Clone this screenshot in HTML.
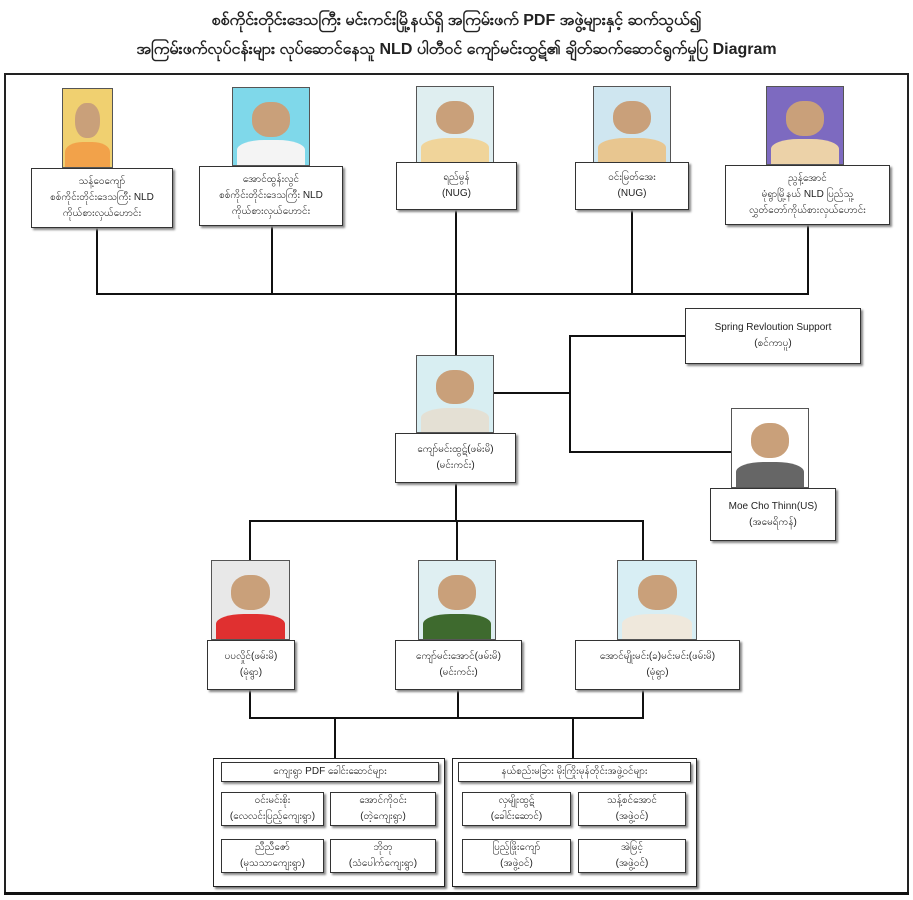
<!DOCTYPE html>
<html><head><meta charset="utf-8"><style>
body{margin:0;width:913px;height:900px;background:#fff;position:relative;overflow:hidden;font-family:"Liberation Sans","Noto Sans CJK SC",sans-serif;color:#222}
.t{position:absolute;left:0;width:913px;text-align:center;font-weight:bold;font-size:16px;white-space:nowrap}
.b{position:absolute;border:1px solid #333;background:#fff;box-shadow:2px 2px 2px #888;text-align:center;font-size:10px;line-height:16px;display:flex;flex-direction:column;justify-content:center;box-sizing:border-box}
.p{position:absolute;border:1px solid #555;box-sizing:border-box;overflow:hidden}
.p:after{content:"";position:absolute;left:25%;top:18%;width:50%;height:45%;border-radius:45%;background:#c9a07a}
.p:before{content:"";position:absolute;left:5%;bottom:0;width:90%;height:32%;border-radius:40% 40% 0 0;background:var(--s,#e8d2a0)}
.l{position:absolute;background:#111}
.g{position:absolute;border:1.5px solid #222;box-shadow:2px 2px 2px #777;box-sizing:border-box}
</style></head><body>
<div class="t" style="top:9px">စစ်ကိုင်းတိုင်းဒေသကြီး မင်းကင်းမြို့နယ်ရှိ အကြမ်းဖက် PDF အဖွဲ့များနှင့် ဆက်သွယ်၍</div>
<div class="t" style="top:38px">အကြမ်းဖက်လုပ်ငန်းများ လုပ်ဆောင်နေသူ NLD ပါတီဝင် ကျော်မင်းထွဋ်၏ ချိတ်ဆက်ဆောင်ရွက်မှုပြ Diagram</div>
<div style="position:absolute;left:4px;top:73px;width:905px;height:821px;border:2px solid #222;box-sizing:border-box"></div>
<div class="l" style="left:4px;top:892px;width:905px;height:3px"></div>

<!-- lines -->
<div class="l" style="left:96px;top:228px;width:2px;height:67px"></div>
<div class="l" style="left:271px;top:226px;width:2px;height:69px"></div>
<div class="l" style="left:455px;top:210px;width:2px;height:145px"></div>
<div class="l" style="left:631px;top:210px;width:2px;height:85px"></div>
<div class="l" style="left:807px;top:225px;width:2px;height:70px"></div>
<div class="l" style="left:96px;top:293px;width:713px;height:2px"></div>
<div class="l" style="left:456px;top:392px;width:115px;height:2px"></div>
<div class="l" style="left:569px;top:335px;width:2px;height:118px"></div>
<div class="l" style="left:569px;top:335px;width:116px;height:2px"></div>
<div class="l" style="left:569px;top:451px;width:162px;height:2px"></div>
<div class="l" style="left:455px;top:483px;width:2px;height:38px"></div>
<div class="l" style="left:249px;top:520px;width:395px;height:2px"></div>
<div class="l" style="left:249px;top:520px;width:2px;height:40px"></div>
<div class="l" style="left:456px;top:520px;width:2px;height:40px"></div>
<div class="l" style="left:642px;top:520px;width:2px;height:40px"></div>
<div class="l" style="left:249px;top:690px;width:2px;height:28px"></div>
<div class="l" style="left:457px;top:690px;width:2px;height:28px"></div>
<div class="l" style="left:642px;top:690px;width:2px;height:28px"></div>
<div class="l" style="left:249px;top:717px;width:395px;height:2px"></div>
<div class="l" style="left:334px;top:717px;width:2px;height:41px"></div>
<div class="l" style="left:572px;top:717px;width:2px;height:41px"></div>

<!-- top row -->
<div class="p" style="left:62px;top:88px;width:51px;height:80px;background:#f0d070;--s:#f2a24a"></div>
<div class="b" style="left:31px;top:168px;width:142px;height:60px">သန့်ဝေကျော်<br>စစ်ကိုင်းတိုင်းဒေသကြီး NLD<br>ကိုယ်စားလှယ်ဟောင်း</div>
<div class="p" style="left:232px;top:87px;width:78px;height:79px;background:#7fd8ea;--s:#f4f4f4"></div>
<div class="b" style="left:199px;top:166px;width:144px;height:60px">အောင်ထွန်းလွင်<br>စစ်ကိုင်းတိုင်းဒေသကြီး NLD<br>ကိုယ်စားလှယ်ဟောင်း</div>
<div class="p" style="left:416px;top:86px;width:78px;height:77px;background:#dfeef0;--s:#f0d49a"></div>
<div class="b" style="left:396px;top:162px;width:121px;height:48px">ရည်မွန်<br>(NUG)</div>
<div class="p" style="left:593px;top:86px;width:78px;height:77px;background:#cfe6f0;--s:#e8c690"></div>
<div class="b" style="left:575px;top:162px;width:114px;height:48px">ဝင်းမြတ်အေး<br>(NUG)</div>
<div class="p" style="left:766px;top:86px;width:78px;height:79px;background:#7d6ac0;--s:#ecd2a8"></div>
<div class="b" style="left:725px;top:165px;width:165px;height:60px">ညွန့်အောင်<br>မုံရွာမြို့နယ် NLD ပြည်သူ့<br>လွှတ်တော်ကိုယ်စားလှယ်ဟောင်း</div>

<!-- center -->
<div class="p" style="left:416px;top:355px;width:78px;height:78px;background:#d8eef2;--s:#e4e0d4"></div>
<div class="b" style="left:395px;top:433px;width:121px;height:50px">ကျော်မင်းထွဋ်(ဖမ်းမိ)<br>(မင်းကင်း)</div>
<div class="b" style="left:685px;top:308px;width:176px;height:56px">Spring Revloution Support<br>(စင်ကာပူ)</div>
<div class="p" style="left:731px;top:408px;width:78px;height:80px;background:#fff;--s:#666"></div>
<div class="b" style="left:710px;top:488px;width:126px;height:53px">Moe Cho Thinn(US)<br>(အမေရိကန်)</div>

<!-- second row -->
<div class="p" style="left:211px;top:560px;width:79px;height:80px;background:#e8e8e8;--s:#e03030"></div>
<div class="b" style="left:207px;top:640px;width:88px;height:50px">ပပလှိုင်(ဖမ်းမိ)<br>(မုံရွာ)</div>
<div class="p" style="left:418px;top:560px;width:78px;height:80px;background:#dfeff2;--s:#3e6a2e"></div>
<div class="b" style="left:395px;top:640px;width:127px;height:50px">ကျော်မင်းအောင်(ဖမ်းမိ)<br>(မင်းကင်း)</div>
<div class="p" style="left:617px;top:560px;width:80px;height:80px;background:#d8eef4;--s:#efe8dc"></div>
<div class="b" style="left:575px;top:640px;width:165px;height:50px">အောင်မျိုးမင်း(ခ)မင်းမင်း(ဖမ်းမိ)<br>(မုံရွာ)</div>

<!-- groups -->
<div class="g" style="left:213px;top:758px;width:232px;height:129px"></div>
<div class="b" style="left:221px;top:762px;width:218px;height:20px">ကျေးရွာ PDF ခေါင်းဆောင်များ</div>
<div class="b" style="left:221px;top:792px;width:103px;height:34px">ဝင်းမင်းစိုး<br>(လေလင်းပြည့်ကျေးရွာ)</div>
<div class="b" style="left:330px;top:792px;width:106px;height:34px">အောင်ကိုဝင်း<br>(တဲ့ကျေးရွာ)</div>
<div class="b" style="left:221px;top:839px;width:103px;height:34px">ညီညီဇော်<br>(မုသသာကျေးရွာ)</div>
<div class="b" style="left:330px;top:839px;width:106px;height:34px">ဘိုတု<br>(သံပေါက်ကျေးရွာ)</div>
<div class="g" style="left:452px;top:758px;width:245px;height:129px"></div>
<div class="b" style="left:458px;top:762px;width:233px;height:20px">နယ်စည်းမခြား မိုးကြိုးမုန်တိုင်းအဖွဲ့ဝင်များ</div>
<div class="b" style="left:462px;top:792px;width:109px;height:34px">လှမျိုးထွဋ်<br>(ခေါင်းဆောင်)</div>
<div class="b" style="left:578px;top:792px;width:108px;height:34px">သန့်စင်အောင်<br>(အဖွဲ့ဝင်)</div>
<div class="b" style="left:462px;top:839px;width:109px;height:34px">ပြည့်ဖြိုးကျော်<br>(အဖွဲ့ဝင်)</div>
<div class="b" style="left:578px;top:839px;width:108px;height:34px">အဲမြင့်<br>(အဖွဲ့ဝင်)</div>
</body></html>
